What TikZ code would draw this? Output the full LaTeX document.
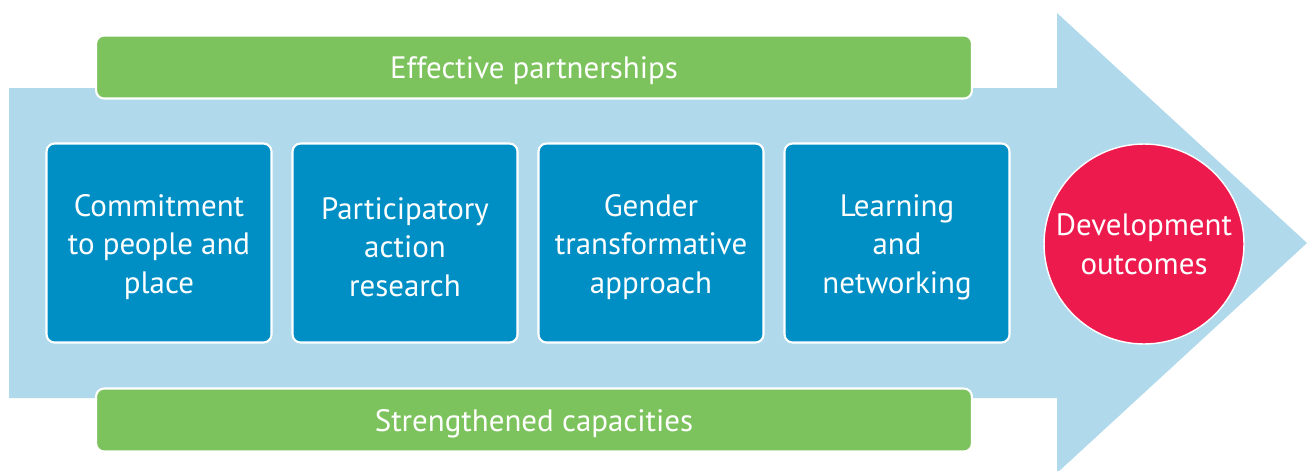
\documentclass[tikz,border=0pt]{standalone}
\usepackage{fontspec}
\setmainfont{PT Sans}
\usepackage{tikz}
\definecolor{arrowblue}{HTML}{B0DAEC}
\definecolor{bargreen}{HTML}{7DC35D}
\definecolor{boxblue}{HTML}{008FC5}
\definecolor{outred}{HTML}{ED1A4E}
\newcommand{\toppush}{\rule{0pt}{0.6cm}}
\tikzset{
  bar/.style={fill=bargreen,draw=white,line width=1.2pt,rounded corners=0.16cm,
    minimum width=17.52cm,minimum height=1.26cm,text=white,
    font=\fontsize{17.6}{22}\selectfont,execute at begin node=\toppush},
  stepbox/.style={fill=boxblue,draw=white,line width=1.2pt,rounded corners=0.16cm,
    minimum width=4.5cm,minimum height=3.98cm},
  steplabel/.style={text=white,align=center,yshift=-0.08cm,
    font=\fontsize{17.6}{22}\selectfont},
  outcome/.style={circle,fill=outred,draw=white,line width=0.8pt,minimum size=4cm,
    inner sep=0pt,text=white,align=center,font=\fontsize{17.6}{22}\selectfont}
}

\begin{document}
\begin{tikzpicture}[x=0.02cm,y=-0.02cm]
\useasboundingbox (0,0) rectangle (1307,470);
\fill[arrowblue] (9,88) -- (1057,88) -- (1057,13) -- (1307,243) -- (1057,473) -- (1057,398) -- (9,398) -- cycle;

\node[bar] (partner) at (534,67) {Effective partnerships};
\node[bar] (capacity) at (534,420) {Strengthened capacities};

\node[stepbox,label={[steplabel]center:Commitment\\to people and\\place}] (commit) at (159,243) {};
\node[stepbox,label={[steplabel]center:Participatory\\action\\research}] (action) at (405,243) {};
\node[stepbox,label={[steplabel]center:Gender\\transformative\\approach}] (gender) at (651,243) {};
\node[stepbox,label={[steplabel]center:Learning\\and\\networking}] (learn) at (897,243) {};

\node[outcome] (devout) at (1144,244) {Development\\outcomes};

\end{tikzpicture}
\end{document}
